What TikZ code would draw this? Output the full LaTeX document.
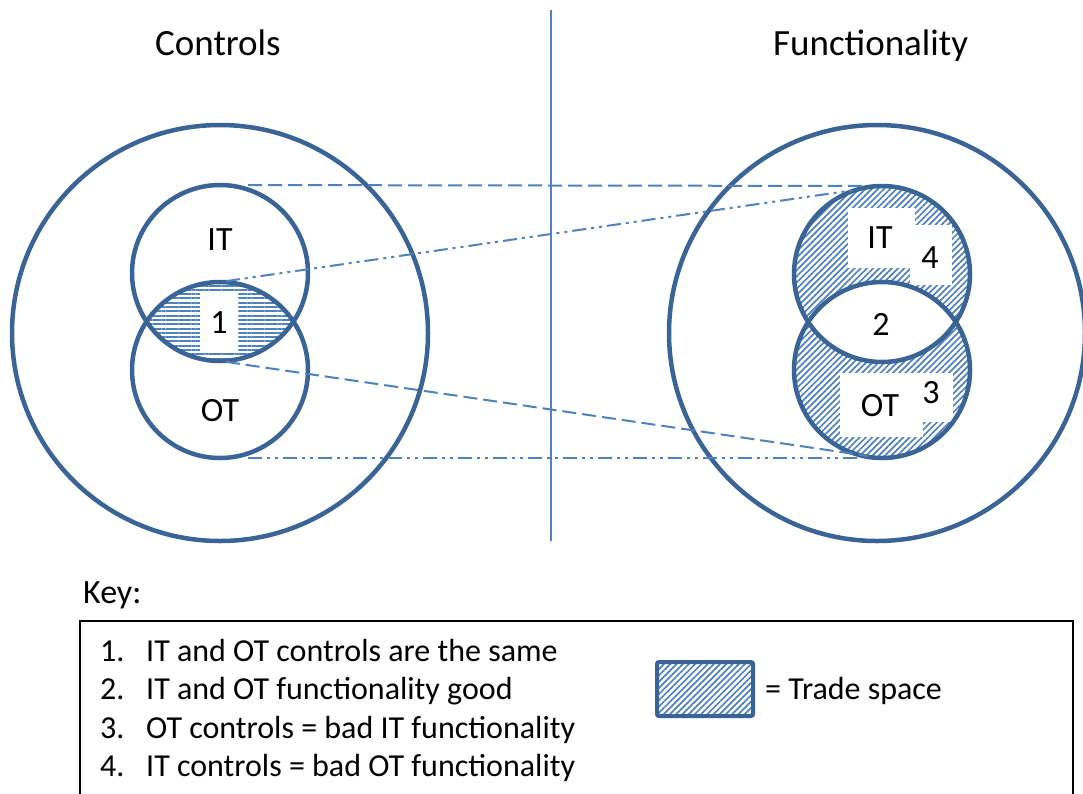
\documentclass[tikz,border=0pt]{standalone}
\usepackage{fontspec}
\setmainfont{Carlito}
\usetikzlibrary{patterns.meta}
\definecolor{circ}{RGB}{59,100,150}
\definecolor{ln}{RGB}{79,129,189}
\begin{document}
\begin{tikzpicture}[x=1pt,y=-1pt,
 bigc/.style={circle,draw=circ,line width=4.5pt,minimum size=416pt,inner sep=0pt,outer sep=0pt},
 smc/.style={circle,draw=circ,line width=4.5pt,minimum size=176pt,inner sep=0pt,outer sep=0pt},
 dashln/.style={ln,line width=2pt,dash pattern=on 14pt off 6pt},
 dotln/.style={ln,line width=2pt,dash pattern=on 14pt off 5pt on 3pt off 5pt on 3pt off 5pt},
 hhatch/.style={pattern={Lines[angle=0,distance=4.3pt,line width=2pt]},pattern color=ln},
 dhatch/.style={pattern={Lines[angle=45,distance=4.4pt,line width=1.7pt]},pattern color=ln},
 lbl/.style={font=\fontsize{34}{40}\selectfont,inner sep=0pt},
 ttl/.style={font=\fontsize{37}{44}\selectfont,inner sep=0pt,anchor=base west},
 keytxt/.style={font=\fontsize{32}{38}\selectfont,inner sep=0pt,anchor=base west},
 wbox/.style={fill=white,draw=none}
]
\useasboundingbox (0,0) rectangle (1083,793);
\fill[white] (0,0) rectangle (1083,793);

% centres
\coordinate (cITL) at (220,273);
\coordinate (cOTL) at (220,370);
\coordinate (cITR) at (882,274);
\coordinate (cOTR) at (882,370);

% titles and divider
\node[ttl] (tc) at (155,55) {Controls};
\node[ttl] (tf) at (773,55) {Functionality};
\coordinate (vtop) at (551,10);
\coordinate (vbot) at (551,541);
\draw[ln,line width=2pt] (vtop) -- (vbot);

% big circles
\node[bigc] (CL) at (220,333) {};
\node[bigc] (CR) at (877,333) {};

% left lens hatch
\begin{scope}
  \clip (cITL) circle[radius=88pt];
  \fill[hhatch] (cOTL) circle[radius=88pt];
\end{scope}
\fill[wbox] (200,293) rectangle (238,352);

% right hatch
\fill[dhatch] (cITR) circle[radius=88pt];
\fill[dhatch] (cOTR) circle[radius=88pt];
\begin{scope}
  \clip (cITR) circle[radius=88pt];
  \fill[white] (cOTR) circle[radius=88pt];
\end{scope}
\fill[wbox] (848,208) rectangle (915,268);
\fill[wbox] (910,225) rectangle (952,285);
\fill[wbox] (840,373) rectangle (923,437);
\fill[wbox] (920,373) rectangle (953,422);

% small circles
\node[smc] (ITL) at (cITL) {};
\node[smc] (OTL) at (cOTL) {};
\node[smc] (ITR) at (cITR) {};
\node[smc] (OTR) at (cOTR) {};

% connectors
\draw[dashln,shorten <=28pt,shorten >=20pt] (ITL.north) -- (ITR.north);
\draw[dotln,shorten <=6pt,shorten >=30pt] (OTL.north) -- (ITR.north);
\draw[dashln,shorten <=6pt,shorten >=14pt] (ITL.south) -- (OTR.south);
\draw[dotln,shorten <=28pt,shorten >=20pt] (OTL.south) -- (OTR.south);

% labels
\node[lbl] (lIT) at (220,240) {IT};
\node[lbl] (lOT) at (220,411) {OT};
\node[lbl] (l1) at (219,323) {1};
\node[lbl] (rIT) at (880,238) {IT};
\node[lbl] (r4) at (930,258) {4};
\node[lbl] (r2) at (881,324) {2};
\node[lbl] (rOT) at (880,406) {OT};
\node[lbl] (r3) at (931,393) {3};

% key
\node[keytxt,font=\fontsize{34}{40}\selectfont] (key) at (83,603) {Key:};
\draw[black,line width=2pt] (80,621) rectangle (1073,810);
\node[keytxt] (n1) at (100,661) {1.};
\node[keytxt] (n2) at (100,699) {2.};
\node[keytxt] (n3) at (100,738) {3.};
\node[keytxt] (n4) at (100,776) {4.};
\node[keytxt] (k1) at (146,661) {IT and OT controls are the same};
\node[keytxt] (k2) at (146,699) {IT and OT functionality good};
\node[keytxt] (k3) at (146,738) {OT controls = bad IT functionality};
\node[keytxt] (k4) at (146,776) {IT controls = bad OT functionality};
\draw[dhatch] (657,662) rectangle (753,716);
\draw[circ,line width=4pt,rounded corners=2pt] (657,662) rectangle (753,716);
\node[keytxt] (ts) at (765,699) {= Trade space};
\end{tikzpicture}
\end{document}
